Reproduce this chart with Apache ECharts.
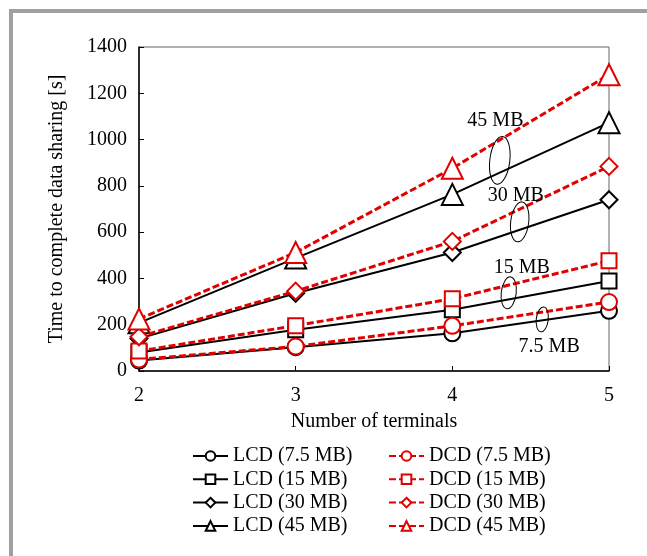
<!DOCTYPE html>
<html>
<head>
<meta charset="utf-8">
<script src="https://cdn.jsdelivr.net/npm/echarts@6/dist/echarts.min.js"></script>
<style>
html,body{margin:0;padding:0;background:#fff;}
#c{width:647px;height:556px;}
</style>
</head>
<body>
<div id="c"></div>
<script>
var terminals = [2, 3, 4, 5];
var lcd75 = [45, 103, 163, 260];
var lcd15 = [80, 178, 265, 389];
var lcd30 = [140, 336, 512, 740];
var lcd45 = [208, 488, 763, 1073];
var dcd75 = [50, 106, 195, 298];
var dcd15 = [86, 196, 312, 476];
var dcd30 = [148, 345, 560, 884];
var dcd45 = [225, 512, 876, 1280];
var yTicks = [0, 200, 400, 600, 800, 1000, 1200, 1400];
var lcdNames = ['LCD (7.5 MB)', 'LCD (15 MB)', 'LCD (30 MB)', 'LCD (45 MB)'];
var dcdNames = ['DCD (7.5 MB)', 'DCD (15 MB)', 'DCD (30 MB)', 'DCD (45 MB)'];
var annotTexts = ['45 MB', '30 MB', '15 MB', '7.5 MB'];
var annotTextPos = [[4.275, 1083], [4.405, 759], [4.443, 444], [4.618, 104]];
var ellipsePos = [[4.303, 910], [4.430, 644], [4.360, 338], [4.574, 223]];

var FONT = 'Liberation Serif';
var RED = '#e00000';
function pairs(vals){ return terminals.map(function(t,i){ return [t, vals[i]]; }); }

var symbols = ['emptyCircle', 'emptyRect', 'emptyDiamond', 'emptyTriangle'];
var sizes = [16, 15, 17, 21];
var lcdData = [lcd75, lcd15, lcd30, lcd45];
var dcdData = [dcd75, dcd15, dcd30, dcd45];
var series = [];
lcdData.forEach(function(d, i){
  series.push({
    name: lcdNames[i], type: 'line', data: pairs(d),
    symbol: symbols[i], symbolSize: sizes[i],
    lineStyle: {color: '#000', width: 2},
    itemStyle: {color: '#000', borderColor: '#000', borderWidth: 2},
    z: 2, animation: false
  });
});
dcdData.forEach(function(d, i){
  series.push({
    name: dcdNames[i], type: 'line', data: pairs(d),
    symbol: symbols[i], symbolSize: sizes[i],
    lineStyle: {color: RED, width: 3, type: [7, 3]},
    itemStyle: {color: RED, borderColor: RED, borderWidth: 2},
    z: 3, animation: false
  });
});

var chart = echarts.init(document.getElementById('c'));
var legendCommon = {
  orient: 'vertical', top: 441, itemWidth: 35, itemHeight: 12, itemGap: 3.3,
  textStyle: {fontFamily: FONT, fontSize: 20, color: '#000', lineHeight: 20},
  inactiveColor: '#999'
};
chart.setOption({
  backgroundColor: '#fff',
  animation: false,
  grid: {left: 139, right: 38, top: 47, bottom: 185, show: true, borderColor: '#666', borderWidth: 1, backgroundColor: 'transparent'},
  legend: [
    Object.assign({left: 187, data: lcdNames}, legendCommon),
    Object.assign({left: 383, data: dcdNames}, legendCommon)
  ],
  xAxis: {
    type: 'value', min: 2, max: 5, interval: 1,
    name: 'Number of terminals', nameLocation: 'middle', nameGap: 41,
    nameTextStyle: {fontFamily: FONT, fontSize: 20, color: '#000'},
    axisLine: {show: true, lineStyle: {color: '#000', width: 1.5}},
    axisTick: {show: true, inside: true, length: 5, lineStyle: {color: '#000'}},
    axisLabel: {fontFamily: FONT, fontSize: 20, color: '#000', margin: 15},
    splitLine: {show: false}
  },
  yAxis: {
    type: 'value', min: 0, max: 1400, interval: 200,
    name: 'Time to complete data sharing [s]', nameLocation: 'middle', nameGap: 72,
    nameTextStyle: {fontFamily: FONT, fontSize: 20, color: '#000'},
    axisLine: {show: true, lineStyle: {color: '#000', width: 1.5}},
    axisTick: {show: true, inside: true, length: 5, lineStyle: {color: '#000'}},
    axisLabel: {fontFamily: FONT, fontSize: 20, color: '#000', margin: 12,
      formatter: function(v){ return yTicks.indexOf(v) >= 0 ? String(v) : ''; }},
    splitLine: {show: false}
  },
  series: series
});

var g = [
  {type: 'rect', shape: {x: 9, y: 9, width: 638, height: 4}, style: {fill: '#a0a0a0'}, z: 100},
  {type: 'rect', shape: {x: 9, y: 9, width: 4, height: 547}, style: {fill: '#a0a0a0'}, z: 100}
];
var radii = [[10, 24], [9, 20], [7.5, 16], [6, 12.5]];
annotTexts.forEach(function(t, i){
  var p = chart.convertToPixel({gridIndex: 0}, annotTextPos[i]);
  g.push({type: 'text', x: p[0], y: p[1], z: 100,
    style: {text: t, font: '20px "' + FONT + '"', fill: '#000', align: 'center', verticalAlign: 'middle'}});
  var e = chart.convertToPixel({gridIndex: 0}, ellipsePos[i]);
  g.push({type: 'ellipse', x: e[0], y: e[1], rotation: -0.12, z: 100,
    shape: {cx: 0, cy: 0, rx: radii[i][0], ry: radii[i][1]},
    style: {fill: 'none', stroke: '#000', lineWidth: 1}});
});
chart.setOption({graphic: g});
</script>
</body>
</html>
